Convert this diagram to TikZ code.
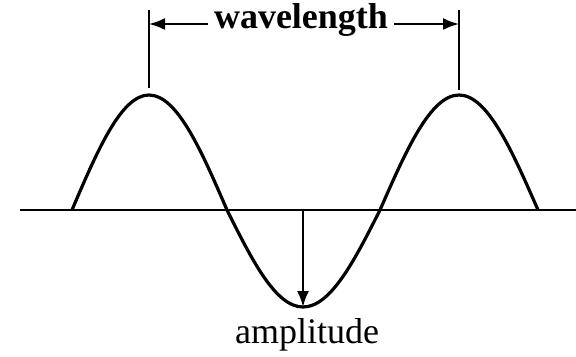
\documentclass[tikz,border=0pt]{standalone}
\usepackage{fontspec}
\setmainfont{Liberation Serif}
\usetikzlibrary{arrows.meta,positioning}

\begin{document}
\begin{tikzpicture}[x=0.5pt, y=-0.5pt,
    wave/.style={line width=1.6pt},
    guide/.style={line width=1pt},
    pointer/.style={line width=1pt, -{Latex[length=8pt,width=6pt]}},
    caption/.style={inner sep=1pt, font=\fontsize{18}{20}\selectfont}]
  \useasboundingbox (0,0) rectangle (576,357);

  % Axis
  \coordinate (axL) at (20,210);
  \coordinate (axR) at (576,210);
  \draw[guide] (axL) -- (axR);

  % Wave (one and a half periods)
  \coordinate (start) at (72,210);
  \coordinate (crestA) at (149,95);
  \coordinate (crossA) at (227,210);
  \coordinate (trough) at (303,307);
  \coordinate (crossB) at (380,210);
  \coordinate (crestB) at (459,95);
  \coordinate (stop) at (538,210);
  \draw[wave] (start) sin (crestA) cos (crossA) sin (trough) cos (crossB) sin (crestB) cos (stop);

  % Wavelength marker
  \coordinate (tickA) at (149,10);
  \coordinate (tickB) at (459,10);
  \draw[guide] (tickA) -- (149,88);
  \draw[guide] (tickB) -- (459,90);
  \node[caption, inner xsep=3pt, font=\fontsize{18}{20}\selectfont\bfseries, anchor=mid] (wl) at (301,24) {wavelength};
  \draw[pointer] (wl.mid west) -- (tickA |- wl.mid west);
  \draw[pointer] (wl.mid east) -- (tickB |- wl.mid east);

  % Amplitude marker
  \coordinate (axMid) at (303,210);
  \draw[pointer] (axMid) -- (trough);
  \node[caption, anchor=base] (amp) at (307,343) {amplitude};
\end{tikzpicture}
\end{document}
